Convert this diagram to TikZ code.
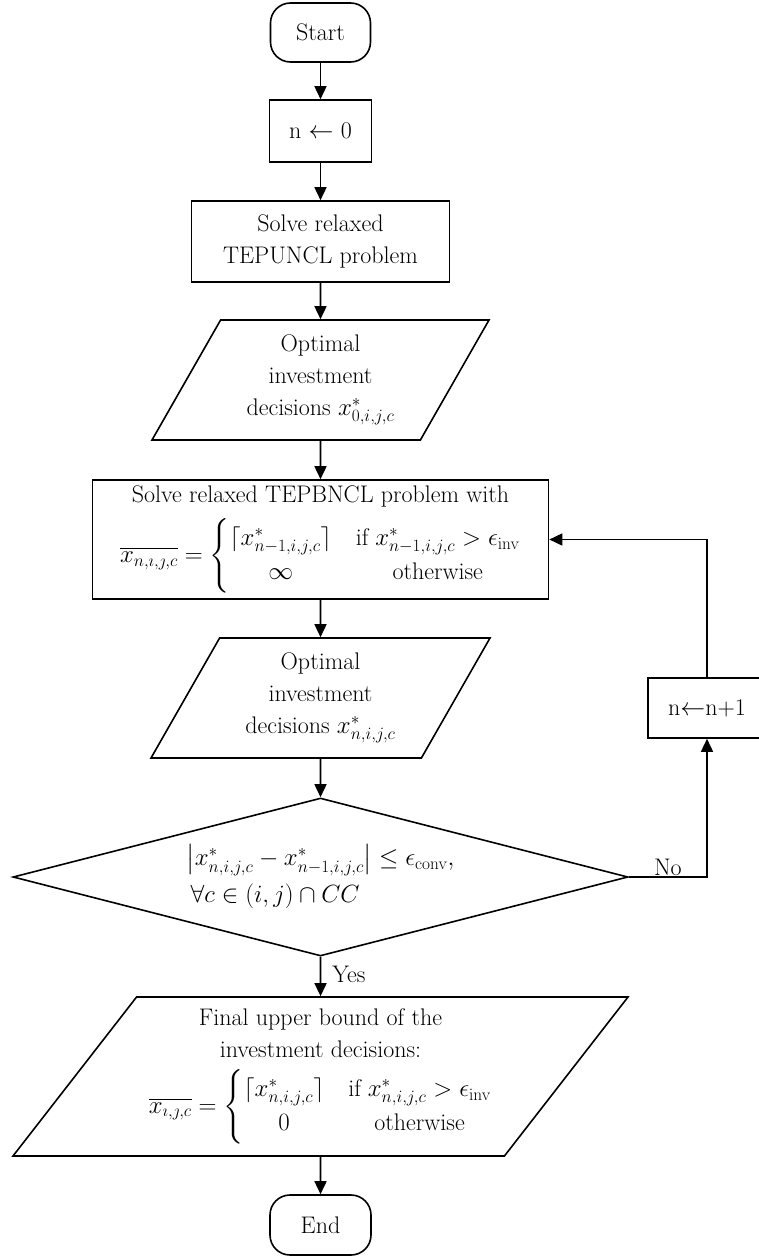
\documentclass[tikz,border=0pt]{standalone}
\usepackage{amsmath}
\usetikzlibrary{shapes.geometric,arrows.meta}
\begin{document}
\begin{tikzpicture}[x=1pt,y=-1pt,
  every node/.style={font=\fontsize{24}{32}\selectfont},
  base/.style={draw, line width=1.6pt, align=center, inner sep=2pt},
  proc/.style={base, rectangle},
  term/.style={base, rectangle, rounded corners=20pt},
  io/.style={base, trapezium, trapezium stretches body},
  dec/.style={base, diamond, aspect=3.9, inner sep=0pt},
  conn/.style={line width=1.6pt, -{Triangle[length=13pt,width=12pt]}},
  lbl/.style={inner sep=1pt}
]
\useasboundingbox (0,0) rectangle (758,1258);

\node[term, minimum width=100pt, minimum height=59pt] (start) at (320.5,32.5) {Start};
\node[proc, minimum width=102pt, minimum height=62pt] (n0) at (320.5,131) {n $\leftarrow$ 0};
\node[proc, minimum width=258pt, minimum height=81pt] (solve1) at (320.5,241.5) {Solve relaxed\\TEPUNCL problem};
\node[io, trapezium left angle=54, trapezium right angle=126, minimum width=337pt, minimum height=120pt] (p1) at (320.5,380)
  {Optimal\\investment\\decisions $x^{*}_{0,i,j,c}$};
\node[proc, minimum width=456pt, minimum height=119pt] (solve2) at (320.5,539.5)
  {Solve relaxed TEPBNCL problem with\\[11pt]
   $\overline{x_{n,\imath,\jmath,c}}=\left\{\begin{array}{@{}c@{\quad}c@{}}\lceil x^{*}_{n-1,i,j,c}\rceil & \text{if}\; x^{*}_{n-1,i,j,c}>\epsilon_{\mathrm{inv}}\\[2pt] \infty & \text{otherwise}\end{array}\right.$};
\node[io, trapezium left angle=54, trapezium right angle=126, minimum width=339pt, minimum height=120pt] (p2) at (320.5,698)
  {Optimal\\investment\\decisions $x^{*}_{n,i,j,c}$};
\node[dec, minimum width=615pt, minimum height=158pt, align=left] (dec) at (320.5,877)
  {$\left|x^{*}_{n,i,j,c}-x^{*}_{n-1,i,j,c}\right|\le\epsilon_{\mathrm{conv}},$\\[5pt]
   \hspace{4pt}$\forall c\in(i,j)\cap CC$};
\node[io, trapezium left angle=48.5, trapezium right angle=131.5, minimum width=615pt, minimum height=159pt] (fin) at (320.5,1076.5)
  {Final upper bound of the\\investment decisions:\\[11pt]
   $\overline{x_{\imath,\jmath,c}}=\left\{\begin{array}{@{}c@{\quad}c@{}}\lceil x^{*}_{n,i,j,c}\rceil & \text{if}\; x^{*}_{n,i,j,c}>\epsilon_{\mathrm{inv}}\\[2pt] 0 & \text{otherwise}\end{array}\right.$};
\node[term, minimum width=101pt, minimum height=60pt] (end) at (320.5,1225) {End};
\node[proc, minimum width=118pt, minimum height=60pt] (inc) at (707,708) {n$\leftarrow$n+1};

\draw[conn] (start) -- (n0);
\draw[conn] (n0) -- (solve1);
\draw[conn] (solve1) -- (p1);
\draw[conn] (p1) -- (solve2);
\draw[conn] (solve2) -- (p2);
\draw[conn] (p2) -- (dec);
\draw[conn] (dec) -- node[lbl, right=10pt, pos=0.45] {Yes} (fin);
\draw[conn] (fin) -- (end);
\draw[conn] (dec.east) -- node[lbl, above] {No} (inc.south |- dec.east) -- (inc.south);
\draw[conn] (inc.north) |- (solve2.east);
\end{tikzpicture}
\end{document}
